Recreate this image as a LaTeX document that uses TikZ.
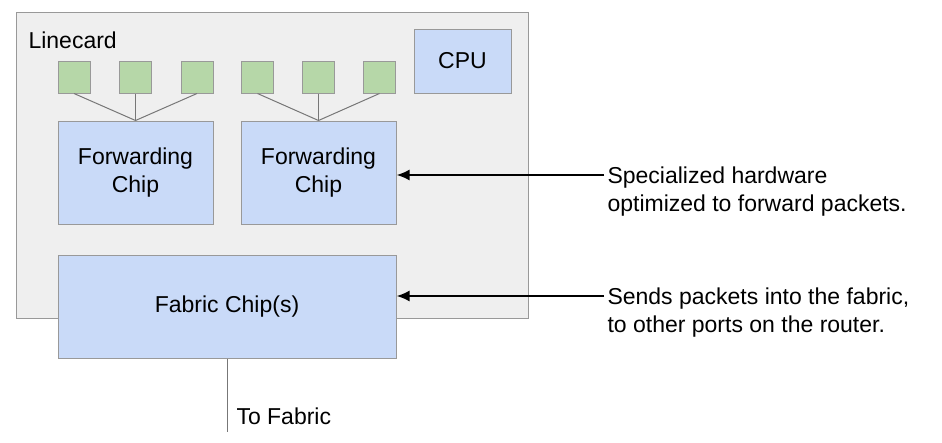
\documentclass[tikz,border=0pt]{standalone}
\usepackage{fontspec}
\setmainfont{Liberation Sans}
\usetikzlibrary{arrows.meta, calc, positioning}
\definecolor{cardgray}{HTML}{EFEFEF}
\definecolor{edgegray}{HTML}{999999}
\definecolor{wiregray}{HTML}{777777}
\definecolor{chipblue}{HTML}{C9DAF8}
\definecolor{portgreen}{HTML}{B6D7A8}
\tikzset{
  chip/.style = {draw=edgegray, line width=1pt, fill=chipblue, align=center, inner sep=0pt},
  port/.style = {draw=edgegray, line width=1pt, fill=portgreen, minimum size=32pt, inner sep=0pt},
  wire/.style = {draw=wiregray, line width=1pt},
  callout/.style = {line width=2pt, -{Latex[length=13pt, width=11pt]}},
  note/.style = {anchor=west, align=left}
}

\begin{document}
\begin{tikzpicture}[x=1pt, y=-1pt, font=\fontsize{23}{28}\selectfont]
  \useasboundingbox (0,0) rectangle (942,442);

  % linecard
  \draw[draw=edgegray, line width=1pt, fill=cardgray] (16,12) rectangle (528,318);
  \node[anchor=base west] (card) at (25,48) {Linecard};
  \node[chip, minimum width=97pt, minimum height=64pt] (cpu) at (462.5,61) {CPU};

  \node[chip, minimum width=155pt, minimum height=103pt] (fwda) at (135.5,172.5) {Forwarding\\Chip};
  \node[chip, minimum width=155pt, minimum height=103pt] (fwdb) at (318.5,172.5) {Forwarding\\Chip};
  \node[chip, minimum width=338pt, minimum height=103pt] (fabric) at (227,306.5) {Fabric Chip(s)};

  % ports
  \foreach \i/\x in {1/74, 2/135.5, 3/197} {
    \node[port] (pa\i) at (\x,77) {};
    \draw[wire] (pa\i.south) -- (fwda.north);
  }
  \foreach \i/\x in {1/257.5, 2/318.5, 3/379.5} {
    \node[port] (pb\i) at (\x,77) {};
    \draw[wire] (pb\i.south) -- (fwdb.north);
  }

  % notes
  \node[note] (fwdnote) at (604,192) {Specialized hardware\\optimized to forward packets.};
  \node[note] (fabnote) at (604,313) {Sends packets into the fabric,\\to other ports on the router.};
  \coordinate (fwdtail) at ([yshift=17pt]fwdnote.west);
  \coordinate (fabtail) at ([yshift=17pt]fabnote.west);
  \draw[callout] (fwdtail) -- (fwdtail -| fwdb.east);
  \draw[callout] (fabtail) -- (fabtail -| fabric.east);

  % to fabric
  \coordinate (fabout) at (227,432);
  \draw[wire] (fabric.south) -- (fabout);
  \node[anchor=west] (tofab) at (233,416) {To Fabric};
\end{tikzpicture}
\end{document}
